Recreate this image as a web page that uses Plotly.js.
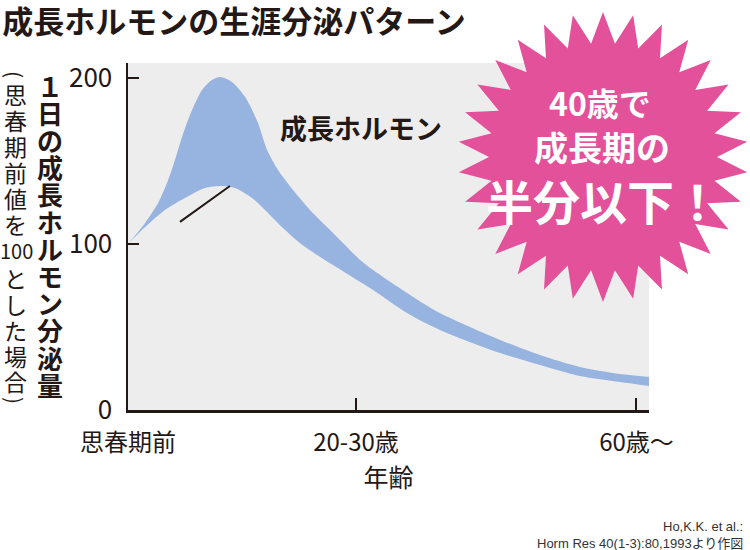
<!DOCTYPE html>
<html>
<head>
<meta charset="utf-8">
<script src="https://cdn.plot.ly/plotly-3.0.1.min.js"></script>
<style>html,body{margin:0;padding:0;background:#fff;}#chart{width:750px;height:550px;}</style>
</head>
<body>
<div id="chart"></div>
<script>
// ---- data (x: 0 = 思春期前, 10 = 20-30歳, 22.3 = 60歳〜) ----
const tickPositions = [0, 10, 22.3];
const tickLabels = ['思春期前', '20-30歳', '60歳〜'];
const yTickValues = [0, 100, 200];

// upper edge of the band
const upperX = [0, 0.75, 1.32, 1.71, 2.06, 2.37, 2.81, 3.25, 3.68, 4.04, 4.56, 5.13, 5.70, 6.10, 6.58, 7.24, 7.98, 8.73, 9.43, 10.18, 10.75, 12.24, 13.68, 16.32, 18.07, 19.82, 21.58, 22.85];
const upperY = [100, 112.7, 124.7, 136.7, 150.6, 164.5, 180.7, 192.8, 198.8, 200.6, 197.6, 188.6, 172.9, 156.6, 144.6, 132.5, 120.5, 110.2, 100.6, 90.4, 84.3, 70.5, 58.4, 42.2, 33.1, 25.9, 21.7, 19.9];

// lower edge of the band
const lowerX = [0, 0.75, 1.62, 2.50, 3.38, 4.12, 4.69, 5.44, 6.01, 6.80, 7.54, 8.29, 8.99, 10.04, 10.75, 12.24, 13.68, 16.32, 18.07, 19.82, 21.58, 22.85];
const lowerY = [100, 110.2, 120.5, 127.7, 133.7, 134.9, 133.7, 127.7, 120.5, 109.6, 100.6, 93.4, 87.3, 78.3, 72.3, 58.4, 48.2, 34.3, 27.1, 20.5, 16.9, 14.5];

// leader line from the band (data coordinates)
const leaderX = [2.28, 4.47];
const leaderY = [113.3, 134.9];

const titleText = '成長ホルモンの生涯分泌パターン';
const seriesLabel = '成長ホルモン';
const yTitleMain = ['１','日','の','成','長','ホ','ル','モ','ン','分','泌','量'];
const yTitleSub = ['(','思','春','期','前','値','を','100','と','し','た','場','合',')'];
const badgeLines = ['40歳で', '成長期の', '半分以下！'];
const xTitle = '年齢';
const sourceLines = ['Ho,K.K. et al.:', 'Horm Res 40(1-3):80,1993より作図'];

// ---- layout helpers ----
const FIG_W = 750, FIG_H = 550;
const M = {l: 128, r: 101, t: 63, b: 140};
const PW = FIG_W - M.l - M.r, PH = FIG_H - M.t - M.b;
const px = v => (v - M.l) / PW;
const py = v => (FIG_H - M.b - v) / PH;
const INK = '#231815';
const FONT = '"Noto Sans CJK JP", "Noto Sans", sans-serif';

const annotations = [];
// main vertical y title (one upright glyph per cell)
yTitleMain.forEach((ch, i) => {
  annotations.push({
    text: ch, xref: 'paper', yref: 'paper', x: px(50), y: py(85 + i * 27.2),
    xanchor: 'center', yanchor: 'middle', showarrow: false, borderpad: 0,
    font: {family: FONT, size: 26, color: INK, weight: 'bold'}
  });
});
// parenthetical column
(function(){
  const ys = [74, 94, 120, 146, 172, 198, 224, 251, 278, 304, 330, 356, 381, 400];
  yTitleSub.forEach((ch, i) => {
    const isParen = (ch === '(' || ch === ')');
    const isNum = ch.length > 1;
    annotations.push({
      text: ch, xref: 'paper', yref: 'paper', x: px(isNum ? 16 : 15), y: py(ys[i]),
      xanchor: 'center', yanchor: 'middle', showarrow: false, borderpad: 0,
      textangle: isParen ? 90 : 0,
      font: {family: FONT, size: isNum ? 20 : (isParen ? 21 : 23), color: INK}
    });
  });
})();

annotations.push({
  text: seriesLabel, xref: 'paper', yref: 'paper', x: px(361), y: py(128),
  xanchor: 'center', yanchor: 'middle', showarrow: false,
  font: {family: FONT, size: 27, color: INK, weight: 'bold'}
});

// badge text
[[badgeLines[0], 600, 102, 32], [badgeLines[1], 602, 146, 34], [badgeLines[2], 603, 199, 47]].forEach(b => {
  annotations.push({
    text: b[0], xref: 'paper', yref: 'paper', x: px(b[1]), y: py(b[2]),
    xanchor: 'center', yanchor: 'middle', showarrow: false,
    font: {family: FONT, size: b[3], color: '#ffffff', weight: 'bold'}
  });
});

// source
sourceLines.forEach((s, i) => {
  annotations.push({
    text: s, xref: 'paper', yref: 'paper', x: px(745), y: py(526 + i * 17),
    xanchor: 'right', yanchor: 'middle', showarrow: false,
    font: {family: '"Liberation Sans", "Noto Sans CJK JP", sans-serif', size: 13, color: '#333333'}
  });
});

// starburst badge
function starPath(cx, cy, rOut, rIn, n) {
  let d = '';
  for (let i = 0; i < 2 * n; i++) {
    const r = i % 2 === 0 ? rOut : rIn;
    const a = -Math.PI / 2 + i * Math.PI / n;
    const X = px(cx + r * Math.cos(a)), Y = py(cy + r * Math.sin(a));
    d += (i === 0 ? 'M' : 'L') + X.toFixed(4) + ',' + Y.toFixed(4);
  }
  return d + 'Z';
}

const shapes = [
  {type: 'line', xref: 'x', yref: 'y', x0: leaderX[0], y0: leaderY[0], x1: leaderX[1], y1: leaderY[1],
   line: {color: INK, width: 2}},
  {type: 'path', xref: 'paper', yref: 'paper', path: starPath(603, 157, 145, 114, 30),
   fillcolor: '#e3519a', line: {width: 0}, layer: 'above'}
];

const traces = [
  {x: lowerX, y: lowerY, type: 'scatter', mode: 'lines', line: {width: 0, shape: 'spline', smoothing: 0.8, color: '#97b3df'},
   hoverinfo: 'skip', showlegend: false},
  {x: upperX, y: upperY, type: 'scatter', mode: 'lines', fill: 'tonexty', fillcolor: '#97b3df',
   line: {width: 0, shape: 'spline', smoothing: 0.8, color: '#97b3df'}, hoverinfo: 'skip', showlegend: false, name: seriesLabel}
];

const layout = {
  width: FIG_W, height: FIG_H,
  margin: M,
  paper_bgcolor: '#ffffff', plot_bgcolor: '#ededed',
  showlegend: false,
  font: {family: FONT, color: INK},
  title: {text: titleText, xref: 'container', yref: 'container', x: 0.003, xanchor: 'left',
          y: 1 - 22 / FIG_H, yanchor: 'middle', font: {family: FONT, size: 31, color: INK, weight: 'bold'}},
  xaxis: {
    range: [0, 22.85], tickvals: tickPositions, ticktext: tickLabels,
    ticks: 'inside', ticklen: 12, tickwidth: 2, tickcolor: INK,
    showline: true, linecolor: INK, linewidth: 2.5, showgrid: false, zeroline: false,
    tickfont: {family: FONT, size: 24, color: INK}, ticklabelstandoff: 10,
    title: {text: xTitle, font: {family: FONT, size: 25, color: INK}, standoff: 8},
    fixedrange: true
  },
  yaxis: {
    range: [0, 209], tickvals: yTickValues, ticktext: yTickValues.map(String),
    ticks: 'inside', ticklen: 11, tickwidth: 2, tickcolor: INK,
    showline: true, linecolor: INK, linewidth: 2.5, showgrid: false, zeroline: false,
    tickfont: {family: FONT, size: 26, color: INK}, ticklabelstandoff: 8,
    fixedrange: true
  },
  shapes: shapes,
  annotations: annotations
};

Plotly.newPlot('chart', traces, layout, {displayModeBar: false, staticPlot: true});
</script>
</body>
</html>
